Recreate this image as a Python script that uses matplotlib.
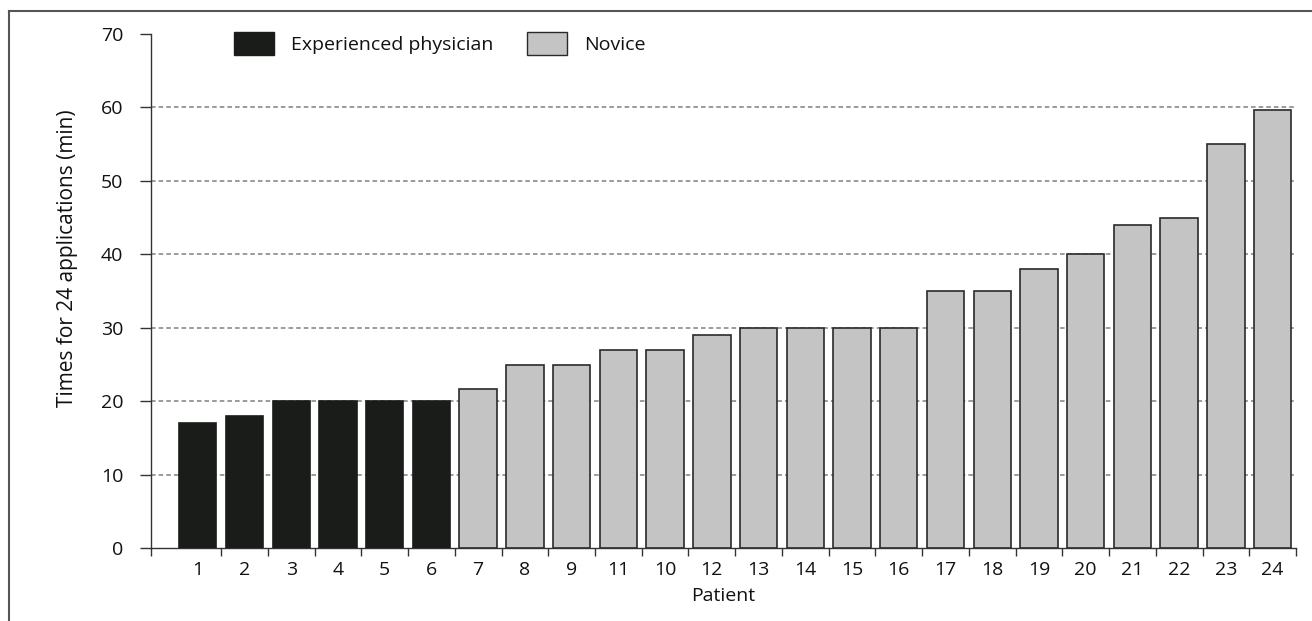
import matplotlib.pyplot as plt
from matplotlib.lines import Line2D
from matplotlib.patches import Patch

# Data
patients = ['1', '2', '3', '4', '5', '6', '7', '8', '9', '11', '10', '12',
            '13', '14', '15', '16', '17', '18', '19', '20', '21', '22', '23', '24']
times = [17, 18, 20, 20, 20, 20, 21.7, 25, 25, 27, 27, 29,
         30, 30, 30, 30, 35, 35, 38, 40, 44, 45, 55, 59.7]
group = ['exp'] * 6 + ['nov'] * 18

plt.rcParams['font.family'] = ['Open Sans', 'DejaVu Sans']
txt = '#111111'

fig = plt.figure(figsize=(13.12, 6.21), dpi=100)
ax = fig.add_axes([0.1151, 0.1171, 0.8727, 0.8281])

pos = list(range(1, len(times) + 1))
colors = ['#1a1c1a' if g == 'exp' else '#c4c4c4' for g in group]
edges = ['#1a1c1a' if g == 'exp' else '#2a2a2a' for g in group]
ax.bar(pos, times, width=0.8, color=colors, edgecolor=edges, linewidth=1.2, zorder=3)

# Grid
for v in range(10, 70, 10):
    ax.axhline(v, color='#808080', linestyle=(0, (3, 2)), linewidth=1.1, zorder=1)

ax.set_xlim(0, 24.5)
ax.set_ylim(0, 70)
ax.set_yticks(range(0, 80, 10))
ax.set_xticks(pos)
ax.set_xticklabels(patients)
ax.set_xticks([0] + [p + 0.5 for p in pos], minor=True)
ax.tick_params(axis='x', which='major', length=0, pad=9, labelsize=14, colors=txt)
ax.tick_params(axis='x', which='minor', length=6, width=1, color='#333333')
ax.tick_params(axis='y', length=8, width=1, pad=12, labelsize=14, color='#333333', labelcolor=txt)

for s in ['top', 'right']:
    ax.spines[s].set_visible(False)
for s in ['left', 'bottom']:
    ax.spines[s].set_color('#333333')
    ax.spines[s].set_linewidth(1)

ax.set_xlabel('Patient', fontsize=14, labelpad=6, color=txt)
ax.set_ylabel('Times for 24 applications (min)', fontsize=15, color=txt)
ax.yaxis.set_label_coords(-0.064, 0.564)

handles = [Patch(facecolor='#1a1c1a', edgecolor='#1a1c1a', label='Experienced physician'),
           Patch(facecolor='#c4c4c4', edgecolor='#2a2a2a', label='Novice')]
leg = ax.legend(handles=handles, loc='center left', bbox_to_anchor=(0.0725, 0.9815), ncol=2,
                frameon=False, fontsize=14, handlelength=2.06, handleheight=1.5,
                columnspacing=1.7, handletextpad=0.88, borderpad=0, borderaxespad=0)
for t in leg.get_texts():
    t.set_color(txt)

# Frame around the figure (top and left)
fig.add_artist(Line2D([9 / 1312, 1], [1 - 10.5 / 621, 1 - 10.5 / 621],
                      color='#555555', linewidth=1.5, transform=fig.transFigure))
fig.add_artist(Line2D([9 / 1312, 9 / 1312], [0, 1 - 10.5 / 621],
                      color='#555555', linewidth=1.5, transform=fig.transFigure))

fig.savefig('out.png', dpi=100)
